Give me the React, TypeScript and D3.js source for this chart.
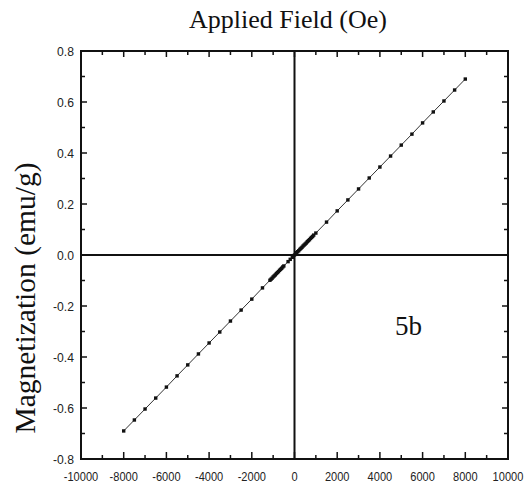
import React from "react";
import * as d3 from "d3";

const fieldSparseNeg = [-8000, -7500, -7000, -6500, -6000, -5500, -5000, -4500, -4000, -3500, -3000, -2500, -2000, -1500];
const magSparseNeg = [-0.690, -0.647, -0.604, -0.561, -0.518, -0.474, -0.431, -0.388, -0.345, -0.302, -0.259, -0.216, -0.173, -0.129];
const fieldDense = [-1150, -1100, -1050, -1000, -950, -900, -850, -800, -750, -700, -650, -600, -550, -500, -300, -200, -100, 0, 100, 150, 200, 250, 300, 350, 400, 450, 500, 550, 600, 650, 700, 750, 800, 850, 900];
const magDense = [-0.099, -0.095, -0.091, -0.086, -0.082, -0.078, -0.073, -0.069, -0.065, -0.060, -0.056, -0.052, -0.047, -0.043, -0.026, -0.017, -0.009, 0.0, 0.009, 0.013, 0.017, 0.022, 0.026, 0.030, 0.035, 0.039, 0.043, 0.047, 0.052, 0.056, 0.060, 0.065, 0.069, 0.073, 0.078];
const fieldSparsePos = [1000, 1500, 2000, 2500, 3000, 3500, 4000, 4500, 5000, 5500, 6000, 6500, 7000, 7500, 8000];
const magSparsePos = [0.086, 0.129, 0.173, 0.216, 0.259, 0.302, 0.345, 0.388, 0.431, 0.474, 0.518, 0.561, 0.604, 0.647, 0.690];

const xTickLabels = [-10000, -8000, -6000, -4000, -2000, 0, 2000, 4000, 6000, 8000, 10000];
const yTickLabels = ["-0.8", "-0.6", "-0.4", "-0.2", "0.0", "0.2", "0.4", "0.6", "0.8"];

export default function App() {
  const W = 526, H = 489;
  const L = 81, R = 508, T = 51, B = 459;
  const x = d3.scaleLinear().domain([-10000, 10000]).range([L, R]);
  const y = d3.scaleLinear().domain([-0.8, 0.8]).range([B, T]);

  const fields = [...fieldSparseNeg, ...fieldDense, ...fieldSparsePos];
  const mags = [...magSparseNeg, ...magDense, ...magSparsePos];
  const pts: [number, number][] = fields.map((f, i) => [f, mags[i]]);
  const line = d3.line<[number, number]>().x(d => x(d[0])).y(d => y(d[1]));

  const xMinor = d3.range(-10000, 10001, 1000);
  const yMinor = d3.range(-8, 9, 1).map(v => v / 10);
  const tickFont = "'Liberation Sans', Arial, sans-serif";
  const serif = "'Liberation Serif', 'Times New Roman', serif";

  return (
    <svg width={W} height={H} style={{ position: "absolute", left: 0, top: 0, background: "#fff" }}>
      <rect width={W} height={H} fill="#fff" />
      <text x={288} y={28} textAnchor="middle" fontFamily={serif} fontSize={26} fill="#111">Applied Field (Oe)</text>
      <text transform={`translate(35,298) rotate(-90)`} textAnchor="middle" fontFamily={serif} fontSize={29.5} fill="#111">Magnetization (emu/g)</text>
      <text x={395} y={335} fontFamily={serif} fontSize={27} fill="#111">5b</text>

      {/* ticks bottom & top */}
      {xMinor.map(v => {
        const major = v % 2000 === 0;
        return (
          <g key={"xt" + v} stroke="#111" strokeWidth={1.5}>
            <line x1={x(v)} x2={x(v)} y1={B} y2={B - (major ? 7 : 4)} />
            <line x1={x(v)} x2={x(v)} y1={T} y2={T + (major ? 6 : 4)} />
          </g>
        );
      })}
      {yMinor.map(v => {
        const major = Math.round(v * 10) % 2 === 0;
        return (
          <g key={"yt" + v} stroke="#111" strokeWidth={1.5}>
            <line x1={L} x2={L + (major ? 6 : 4)} y1={y(v)} y2={y(v)} />
            <line x1={R} x2={R - (major ? 6 : 4)} y1={y(v)} y2={y(v)} />
          </g>
        );
      })}

      {/* zero lines */}
      <line x1={L} x2={R} y1={y(0)} y2={y(0)} stroke="#111" strokeWidth={2.2} />
      <line x1={x(0)} x2={x(0)} y1={T} y2={B} stroke="#111" strokeWidth={2} />

      {/* frame */}
      <rect x={L} y={T} width={R - L} height={B - T} fill="none" stroke="#111" strokeWidth={2} />

      {/* tick labels */}
      {xTickLabels.map(v => (
        <text key={"xl" + v} x={x(v)} y={B + 22} textAnchor="middle" fontFamily={tickFont} fontSize={13.5} fill="#222" transform={`translate(${x(v)},0) scale(0.82,1) translate(${-x(v)},0)`}>{v}</text>
      ))}
      {yTickLabels.map(s => (
        <text key={"yl" + s} x={L - 7} y={y(+s) + 5} textAnchor="end" fontFamily={tickFont} fontSize={13.5} fill="#222" transform={`translate(${L - 7},0) scale(0.9,1) translate(${-(L - 7)},0)`}>{s}</text>
      ))}

      {/* data */}
      <path d={line(pts) || ""} fill="none" stroke="#333" strokeWidth={1} />
      {pts.map((p, i) => (
        <rect key={"p" + i} x={x(p[0]) - 1.7} y={y(p[1]) - 1.7} width={3.4} height={3.4} fill="#111" />
      ))}
    </svg>
  );
}
